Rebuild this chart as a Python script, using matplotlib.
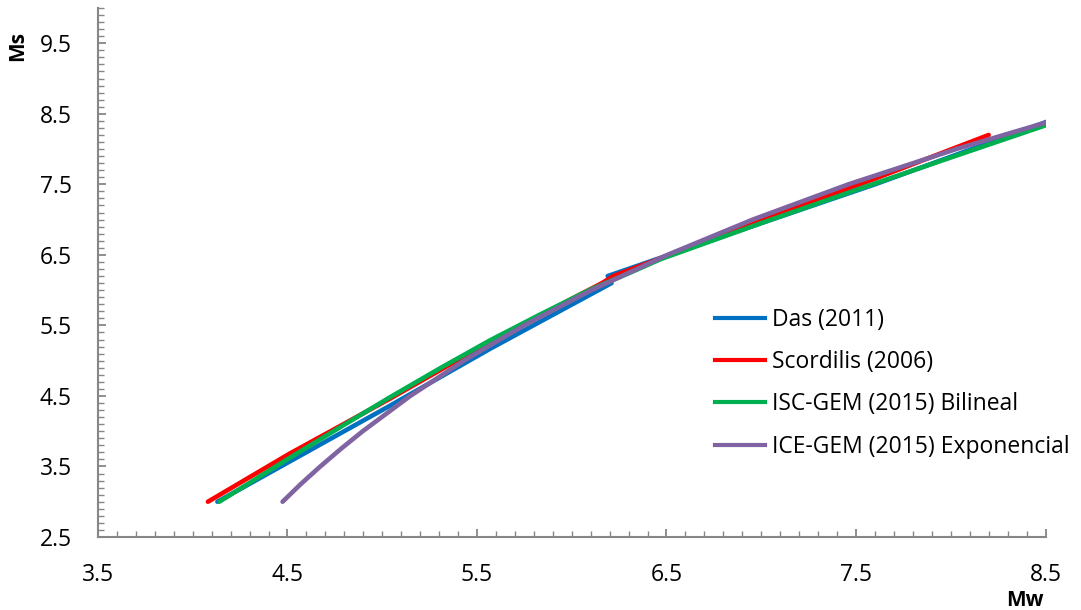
import matplotlib
matplotlib.use("Agg")
import matplotlib.pyplot as plt
from matplotlib.ticker import MultipleLocator, FixedLocator
from matplotlib.lines import Line2D

plt.rcParams['font.family'] = ['Open Sans', 'DejaVu Sans']

# Data (Mw on x, Ms on y)
das_mw = [4.13, 5.04, 5.57, 6.21, 6.19, 7.0, 7.6, 8.52]
das_ms = [3.0, 4.36, 5.17, 6.1, 6.2, 6.95, 7.5, 8.4]

scor_mw = [4.08, 4.51, 5.04, 5.57, 5.83, 6.16, 6.22, 7.0, 7.6, 8.2]
scor_ms = [3.0, 3.68, 4.46, 5.27, 5.64, 6.1, 6.2, 6.99, 7.58, 8.2]

iscb_mw = [4.14, 4.51, 4.78, 5.04, 5.31, 5.57, 5.83, 6.10, 6.31, 6.47, 7.0, 7.5, 8.0, 8.57]
iscb_ms = [3.0, 3.62, 4.06, 4.48, 4.90, 5.29, 5.65, 6.01, 6.25, 6.44, 6.95, 7.42, 7.88, 8.4]

exp_mw = [4.474, 4.570, 4.673, 4.782, 4.897, 5.148, 5.431, 5.748, 6.104,
          6.505, 6.955, 7.460, 8.029, 8.532]
exp_ms = [3.0, 3.25, 3.5, 3.75, 4.0, 4.5, 5.0, 5.5, 6.0,
          6.5, 7.0, 7.5, 8.0, 8.4]

labels = ["Das (2011)", "Scordilis (2006)", "ISC-GEM (2015) Bilineal",
          "ICE-GEM (2015) Exponencial"]
colors = ["#0070C0", "#FF0000", "#00B050", "#8064A2"]

xticks = [3.5, 4.5, 5.5, 6.5, 7.5, 8.5]
yticks = [2.5, 3.5, 4.5, 5.5, 6.5, 7.5, 8.5, 9.5]

fig = plt.figure(figsize=(10.81, 6.10), dpi=100)
ax = fig.add_axes([98 / 1081, 1 - 537 / 610, (1045.5 - 98) / 1081, (537 - 8) / 610])

series = [(das_mw, das_ms), (scor_mw, scor_ms), (iscb_mw, iscb_ms), (exp_mw, exp_ms)]
for (x, y), c in zip(series, colors):
    ax.plot(x, y, color=c, lw=3.3, solid_capstyle='round', solid_joinstyle='round')

ax.set_xlim(3.5, 8.5)
ax.set_ylim(2.5, 10.0)

ax.xaxis.set_major_locator(FixedLocator(xticks))
ax.yaxis.set_major_locator(FixedLocator(yticks))
ax.xaxis.set_minor_locator(MultipleLocator(0.1))
ax.yaxis.set_minor_locator(MultipleLocator(0.1))
ax.set_xticklabels([f"{v:.1f}" for v in xticks])
ax.set_yticklabels([f"{v:.1f}" for v in yticks])

gray = "#868686"
for s in ['top', 'right']:
    ax.spines[s].set_visible(False)
for s in ['left', 'bottom']:
    ax.spines[s].set_color(gray)
    ax.spines[s].set_linewidth(1.5)

ax.tick_params(which='major', direction='in', length=6, width=1.3, color=gray,
               labelsize=16.5, labelcolor='black')
ax.tick_params(which='minor', direction='in', length=4, width=1.0, color=gray)
ax.tick_params(axis='x', which='major', pad=19)
ax.tick_params(axis='y', which='major', pad=19)

fig.text(1025 / 1081, 1 - 601 / 610, "Mw", fontsize=15, fontweight='bold',
         ha='center', va='center')
fig.text(18 / 1081, 1 - 46 / 610, "Ms", fontsize=15, fontweight='bold',
         ha='center', va='center', rotation=90)

handles = [Line2D([0], [0], color=c, lw=3.0) for c in colors]
ax.legend(handles, labels, loc='upper left', frameon=False,
          bbox_to_anchor=(710 / 1081, 1 - 303 / 610), bbox_transform=fig.transFigure,
          borderaxespad=0, borderpad=0.2, fontsize=16.5, handlelength=2.2,
          handletextpad=0.3, labelspacing=0.8)

fig.savefig("out.png", dpi=100)
